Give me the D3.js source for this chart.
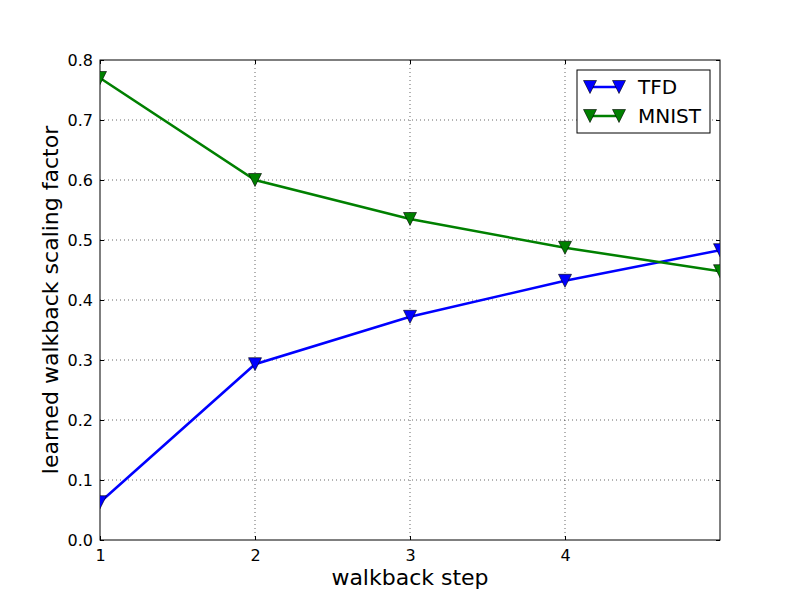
<!DOCTYPE html>
<html><head><meta charset="utf-8">
<script src="https://cdn.jsdelivr.net/npm/d3@7"></script>
<style>body{margin:0;background:#fff}text{font-family:"DejaVu Sans",sans-serif}</style>
</head><body><svg id="c" width="800" height="600"></svg>
<script>
const steps = [1, 2, 3, 4, 5];
const tfd = [0.063, 0.293, 0.372, 0.432, 0.483];
const mnist = [0.770, 0.600, 0.535, 0.487, 0.448];
const xTicks = [1, 2, 3, 4];
const yTicks = [0, 0.1, 0.2, 0.3, 0.4, 0.5, 0.6, 0.7, 0.8];
const seriesNames = ["TFD", "MNIST"];
const seriesColors = ["#0000ff", "#008000"];

const svg = d3.select("#c");
const L = 100, R = 720, T = 60, B = 540;
const x = d3.scaleLinear().domain([1, 5]).range([L, R]);
const y = d3.scaleLinear().domain([0, 0.8]).range([B, T]);

// grid
const g = svg.append("g");
g.selectAll(".gx").data(xTicks.filter(d => d > 1)).enter().append("line")
  .attr("x1", d => x(d)).attr("x2", d => x(d)).attr("y1", T).attr("y2", B)
  .attr("stroke", "#000").attr("stroke-width", 0.6).attr("stroke-dasharray", "1,3");
g.selectAll(".gy").data(yTicks.filter(d => d > 0 && d < 0.8)).enter().append("line")
  .attr("y1", d => y(d)).attr("y2", d => y(d)).attr("x1", L).attr("x2", R)
  .attr("stroke", "#000").attr("stroke-width", 0.6).attr("stroke-dasharray", "1,3");

// axes (inward ticks)
const xAx = svg.append("g").attr("transform", `translate(0,${B})`)
  .call(d3.axisBottom(x).tickValues(xTicks).tickSize(-4).tickPadding(7).tickFormat(d3.format("d")));
const xAxTop = svg.append("g").attr("transform", `translate(0,${T})`)
  .call(d3.axisTop(x).tickValues(xTicks).tickSize(-4).tickFormat(""));
const yAx = svg.append("g").attr("transform", `translate(${L},0)`)
  .call(d3.axisLeft(y).tickValues(yTicks).tickSize(-4).tickPadding(7).tickFormat(d3.format(".1f")));
const yAxR = svg.append("g").attr("transform", `translate(${R},0)`)
  .call(d3.axisRight(y).tickValues(yTicks).tickSize(-4).tickFormat(""));
[xAx, xAxTop, yAx, yAxR].forEach(a => {
  a.select(".domain").remove();
  a.selectAll("text").attr("font-size", 16).attr("fill", "#000").attr("font-family", "DejaVu Sans");
  a.selectAll("line").attr("stroke", "#000");
});
xAx.selectAll("text").attr("dy", "0.85em");

svg.append("rect").attr("x", L).attr("y", T).attr("width", R - L).attr("height", B - T)
  .attr("fill", "none").attr("stroke", "#000").attr("stroke-width", 1);

svg.append("clipPath").attr("id", "clip").append("rect")
  .attr("x", L).attr("y", T).attr("width", R - L).attr("height", B - T);

const h = 6.5;
const tri = `M0,${h}L${-h},${-h}L${h},${-h}Z`;
const datasets = [tfd, mnist];
const plot = svg.append("g").attr("clip-path", "url(#clip)");
datasets.forEach((vals, i) => {
  const pts = steps.map((s, j) => [s, vals[j]]);
  plot.append("path").datum(pts)
    .attr("d", d3.line().x(d => x(d[0])).y(d => y(d[1])))
    .attr("fill", "none").attr("stroke", seriesColors[i]).attr("stroke-width", 2.5);
  plot.selectAll(null).data(pts).enter().append("path")
    .attr("d", tri)
    .attr("transform", d => `translate(${x(d[0])},${y(d[1])})`)
    .attr("fill", seriesColors[i]).attr("stroke", "#000").attr("stroke-width", 0.6);
});

// legend
const lg = svg.append("g");
lg.append("rect").attr("x", 577).attr("y", 70).attr("width", 133).attr("height", 63)
  .attr("fill", "#fff").attr("stroke", "#000").attr("stroke-width", 1);
seriesNames.forEach((n, i) => {
  const ly = 87 + i * 29;
  lg.append("line").attr("x1", 590).attr("x2", 619).attr("y1", ly).attr("y2", ly)
    .attr("stroke", seriesColors[i]).attr("stroke-width", 2.5);
  [590, 619].forEach(px => lg.append("path").attr("d", tri)
    .attr("transform", `translate(${px},${ly})`)
    .attr("fill", seriesColors[i]).attr("stroke", "#000").attr("stroke-width", 0.6));
  lg.append("text").attr("x", 638).attr("y", ly).attr("dy", "0.35em")
    .attr("font-size", 20).text(n);
});

svg.append("text").attr("x", (L + R) / 2).attr("y", 585).attr("text-anchor", "middle")
  .attr("font-size", 22).text("walkback step");
svg.append("text").attr("transform", `translate(58,${(T + B) / 2}) rotate(-90)`)
  .attr("text-anchor", "middle").attr("font-size", 22).text("learned walkback scaling factor");
</script></body></html>
